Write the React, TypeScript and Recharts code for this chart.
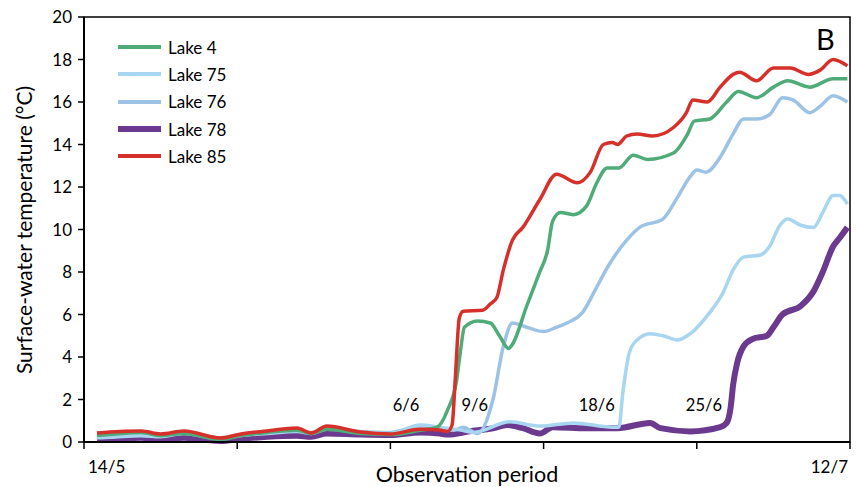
import { LineChart, Line, XAxis, YAxis, ReferenceArea, ReferenceDot } from "recharts"

const FONT = "Lato, 'Open Sans', sans-serif"

// [day since 14/5, temperature °C]
const lake4: [number, number][] = [
  [1.0, 0.3], [2.0, 0.35], [4.4, 0.45], [5.9, 0.3], [7.7, 0.4], [10.5, 0.12], [12.1, 0.3], [14.1, 0.45],
  [16.4, 0.55], [17.5, 0.4], [18.7, 0.6], [21.3, 0.4], [23.6, 0.35], [25.9, 0.55], [27.2, 0.7], [28.0, 1.5],
  [28.7, 2.9], [29.0, 4.3], [29.3, 5.4], [30.3, 5.7], [31.3, 5.6], [32.0, 5.0], [32.7, 4.4], [33.0, 4.6],
  [34.1, 6.4], [35.1, 8.0], [35.7, 9.0], [36.1, 10.4], [36.7, 10.8], [37.7, 10.7], [38.7, 11.1], [39.5, 12.2],
  [40.3, 12.9], [41.2, 12.9], [42.3, 13.5], [43.4, 13.3], [45.4, 13.6], [46.5, 14.5], [47.0, 15.1], [48.2, 15.2],
  [49.5, 16.0], [50.4, 16.5], [51.8, 16.2], [53.1, 16.7], [54.2, 17.0], [55.9, 16.7], [57.7, 17.1], [58.8, 17.1],
]

const lake75: [number, number][] = [
  [1.0, 0.2], [2.0, 0.22], [4.4, 0.3], [5.9, 0.25], [7.7, 0.4], [10.5, 0.15], [12.1, 0.3], [14.1, 0.4],
  [16.4, 0.5], [17.5, 0.4], [18.7, 0.6], [21.3, 0.47], [23.6, 0.4], [25.9, 0.8], [27.4, 0.7], [29.0, 0.56],
  [30.0, 0.45], [32.8, 0.95], [35.1, 0.75], [37.7, 0.9], [40.7, 0.7], [41.2, 0.7], [41.5, 2.3], [42.0, 4.2],
  [42.6, 4.8], [43.6, 5.1], [44.6, 5.0], [45.7, 4.8], [46.7, 5.1], [48.2, 6.1], [49.2, 7.0], [50.0, 8.1],
  [50.8, 8.7], [52.1, 8.8], [52.8, 9.2], [53.6, 10.2], [54.2, 10.5], [55.2, 10.2], [56.2, 10.1], [56.9, 10.8],
  [57.7, 11.6], [58.2, 11.6], [58.8, 11.2],
]

const lake76: [number, number][] = [
  [1.0, 0.25], [2.0, 0.3], [4.4, 0.35], [5.9, 0.3], [7.7, 0.45], [10.5, 0.2], [12.1, 0.35], [14.1, 0.45],
  [16.4, 0.55], [17.5, 0.45], [18.7, 0.65], [21.3, 0.5], [23.6, 0.45], [25.9, 0.75], [27.4, 0.65], [28.5, 0.55],
  [29.2, 0.7], [30.3, 0.4], [31.5, 2.0], [32.3, 4.5], [33.0, 5.6], [34.1, 5.4], [35.4, 5.2], [36.4, 5.4],
  [37.2, 5.6], [38.4, 6.1], [39.5, 7.3], [40.3, 8.2], [41.8, 9.5], [42.8, 10.1], [44.6, 10.5], [45.7, 11.5],
  [46.7, 12.5], [47.2, 12.8], [47.9, 12.7], [49.0, 13.4], [50.0, 14.5], [50.8, 15.2], [51.8, 15.2], [52.8, 15.4],
  [53.8, 16.2], [54.6, 16.1], [55.9, 15.5], [56.7, 15.8], [57.7, 16.3], [58.8, 16.0],
]

const lake78: [number, number][] = [
  [1.0, 0.1], [2.0, 0.12], [4.4, 0.2], [5.9, 0.1], [7.7, 0.2], [10.5, 0.05], [12.1, 0.15], [14.1, 0.25],
  [16.4, 0.3], [17.5, 0.25], [18.7, 0.4], [21.3, 0.35], [23.6, 0.33], [25.9, 0.45], [27.4, 0.4], [28.0, 0.35],
  [29.7, 0.5], [31.5, 0.65], [32.6, 0.8], [33.8, 0.65], [35.1, 0.4], [36.1, 0.7], [38.7, 0.65], [41.1, 0.65],
  [43.6, 0.9], [44.4, 0.65], [46.7, 0.5], [49.0, 0.7], [49.5, 0.9], [49.8, 1.6], [50.0, 2.7], [50.3, 3.7],
  [50.8, 4.5], [51.5, 4.85], [52.6, 5.0], [53.1, 5.4], [53.8, 6.0], [55.2, 6.4], [56.2, 7.1], [56.9, 8.0],
  [57.7, 9.2], [58.2, 9.6], [58.8, 10.1],
]

const lake85: [number, number][] = [
  [1.0, 0.42], [2.0, 0.47], [4.4, 0.52], [5.9, 0.38], [7.7, 0.52], [10.5, 0.19], [12.1, 0.38], [14.1, 0.52],
  [16.4, 0.66], [17.5, 0.42], [18.7, 0.75], [21.3, 0.47], [23.6, 0.38], [25.9, 0.6], [27.4, 0.56], [28.0, 0.5],
  [28.35, 0.8], [28.6, 3.0], [28.9, 5.8], [29.2, 6.15], [30.7, 6.2], [31.3, 6.5], [31.8, 6.8], [32.3, 8.1],
  [33.0, 9.5], [33.8, 10.1], [35.1, 11.4], [36.4, 12.6], [38.0, 12.2], [39.0, 12.7], [40.0, 14.0], [40.7, 14.1],
  [41.1, 14.0], [41.8, 14.4], [42.6, 14.5], [43.8, 14.4], [45.4, 14.8], [46.4, 15.5], [46.9, 16.1], [48.0, 16.0],
  [49.0, 16.7], [50.0, 17.3], [50.5, 17.4], [51.8, 17.0], [53.1, 17.6], [54.4, 17.6], [55.8, 17.3], [56.7, 17.5],
  [57.7, 18.0], [58.8, 17.7],
]

const series = [
  { name: "Lake 4", data: lake4, color: "#4fab78", width: 3.5 },
  { name: "Lake 75", data: lake75, color: "#a8d6f0", width: 3.5 },
  { name: "Lake 76", data: lake76, color: "#9cc3e6", width: 3.5 },
  { name: "Lake 78", data: lake78, color: "#6b3a8e", width: 6 },
  { name: "Lake 85", data: lake85, color: "#d6302b", width: 3.5 },
]
const drawOrder = ["Lake 78", "Lake 76", "Lake 75", "Lake 4", "Lake 85"]

const xTicks = [0, 11.8, 23.6, 35.4, 47.2, 59]
const xTickLabels = ["14/5", "", "", "", "", "12/7"]
const yTicks = [0, 2, 4, 6, 8, 10, 12, 14, 16, 18, 20]

const annotationDays = [24.8, 30.1, 39.5, 47.75]
const annotationLabels = ["6/6", "9/6", "18/6", "25/6"]
const annotationTemp = 1.74

function XTick({ x, y, payload }: any) {
  const i = xTicks.indexOf(payload.value)
  const label = xTickLabels[i]
  if (!label) return null
  const first = i === 0
  return (
    <text x={first ? x + 4 : x - 2} y={y + 22} textAnchor={first ? "start" : "end"} fontSize={17} fontFamily={FONT} fill="#000">
      {label}
    </text>
  )
}

export default function App() {
  const byName = Object.fromEntries(series.map((s) => [s.name, s]))
  return (
    <div style={{ position: "absolute", left: 0, top: 0, width: 858, height: 487, background: "#fff" }}>
      <LineChart width={858} height={487} margin={{ top: 17, right: 8, left: 0, bottom: 0 }}>
        <ReferenceArea x1={0} x2={59} y1={0} y2={20} fill="none" stroke="#000" strokeWidth={1.5} />
        <XAxis
          dataKey="day"
          type="number"
          domain={[0, 59]}
          ticks={xTicks}
          tick={<XTick />}
          tickSize={7}
          height={45}
          axisLine={{ stroke: "#000", strokeWidth: 2 }}
          tickLine={{ stroke: "#000", strokeWidth: 1.5 }}
          label={{
            content: () => (
              <text x={467} y={482} textAnchor="middle" fontSize={21.5} fontFamily={FONT} fill="#000">
                Observation period
              </text>
            ),
          }}
        />
        <YAxis
          type="number"
          domain={[0, 20]}
          ticks={yTicks}
          width={84}
          tickSize={6}
          tickMargin={6}
          interval={0}
          tick={{ fontSize: 17, fontFamily: FONT, fill: "#000" }}
          axisLine={{ stroke: "#000", strokeWidth: 2 }}
          tickLine={{ stroke: "#000", strokeWidth: 1.5 }}
          label={{
            content: () => (
              <text
                transform="translate(23,230) rotate(-90)"
                textAnchor="middle"
                dominantBaseline="central"
                fontSize={21}
                fontFamily={FONT}
                fill="#000"
              >
                Surface-water temperature (°C)
              </text>
            ),
          }}
        />
        {drawOrder.map((n) => {
          const s = byName[n]
          return (
            <Line
              key={s.name}
              name={s.name}
              data={s.data.map(([day, temp]) => ({ day, temp }))}
              dataKey="temp"
              type="monotone"
              stroke={s.color}
              strokeWidth={s.width}
              dot={false}
              activeDot={false}
              isAnimationActive={false}
            />
          )
        })}
        {annotationDays.map((d, i) => (
          <ReferenceDot
            key={annotationLabels[i]}
            x={d}
            y={annotationTemp}
            r={0}
            fill="none"
            stroke="none"
            label={{ value: annotationLabels[i], position: "center", fontSize: 16.5, fontFamily: FONT, fill: "#000" }}
          />
        ))}
      </LineChart>
      <div style={{ position: "absolute", left: 118, top: 33.5, fontFamily: FONT, fontSize: 17, color: "#000" }}>
        {series.map((s) => (
          <div key={s.name} style={{ display: "flex", alignItems: "center", height: 27.3 }}>
            <div style={{ width: 43, height: s.width === 6 ? 6 : 4, background: s.color, marginRight: 7 }} />
            <span>{s.name}</span>
          </div>
        ))}
      </div>
      <div style={{ position: "absolute", left: 816, top: 21, fontFamily: FONT, fontSize: 29, color: "#000" }}>B</div>
    </div>
  )
}
